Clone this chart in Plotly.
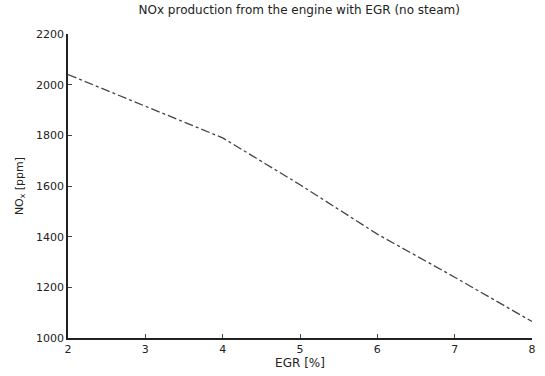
import plotly.graph_objects as go

egr = [2, 3, 4, 5, 6, 7, 8]
nox = [2040, 1915, 1790, 1605, 1410, 1240, 1065]
x_ticks = [2, 3, 4, 5, 6, 7, 8]
y_ticks = [1000, 1200, 1400, 1600, 1800, 2000, 2200]

FAM = "DejaVu Sans, Liberation Sans, Arial, sans-serif"
fig = go.Figure()
fig.add_trace(go.Scatter(x=egr, y=nox, mode="lines",
                         line=dict(color="#444444", width=1.3, dash="dashdot"),
                         showlegend=False))

fig.update_layout(
    width=545, height=376,
    margin=dict(l=68, r=9, t=34, b=31),
    paper_bgcolor="white", plot_bgcolor="white",
    font=dict(family=FAM, size=11, color="#222222"),
    title=dict(text="NOx production from the engine with EGR (no steam)",
               x=0.549, xanchor="center", y=0.985, yanchor="top",
               font=dict(family=FAM, size=12, color="#222222")),
)
fig.update_xaxes(range=[2, 8], tickvals=x_ticks, ticks="inside", ticklen=4,
                 showline=True, linecolor="#222222", linewidth=1.5, mirror=False,
                 showgrid=False, zeroline=False,
                 tickfont=dict(size=11),
                 title=dict(text="EGR [%]", standoff=3,
                            font=dict(size=12)))
fig.update_yaxes(range=[1000, 2200], tickvals=y_ticks, ticks="inside", ticklen=4,
                 showline=True, linecolor="#222222", linewidth=1.5, mirror=False,
                 showgrid=False, zeroline=False,
                 tickfont=dict(size=11),
                 title=dict(text="NO<sub>x</sub> [ppm]", standoff=10,
                            font=dict(size=11)))

fig.write_html("out.html")
